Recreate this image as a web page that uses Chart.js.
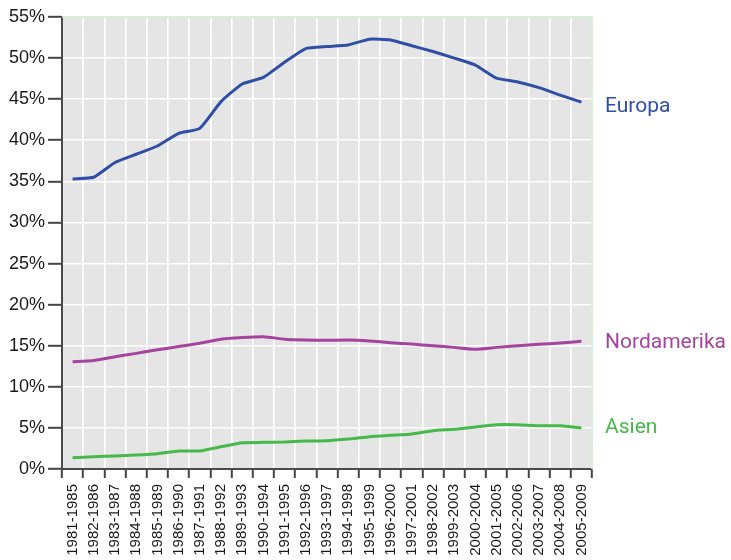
<!DOCTYPE html>
<html>
<head>
<meta charset="utf-8">
<script src="https://cdn.jsdelivr.net/npm/chart.js@4/dist/chart.umd.min.js"></script>
<style>
  html, body { margin: 0; padding: 0; background: #ffffff; }
  #wrap { width: 731px; height: 560px; position: relative; }
</style>
</head>
<body>
<div id="wrap"><canvas id="c" width="731" height="560"></canvas></div>
<script>
const categories = [
  "1981-1985","1982-1986","1983-1987","1984-1988","1985-1989","1986-1990","1987-1991",
  "1988-1992","1989-1993","1990-1994","1991-1995","1992-1996","1993-1997","1994-1998",
  "1995-1999","1996-2000","1997-2001","1998-2002","1999-2003","2000-2004","2001-2005",
  "2002-2006","2003-2007","2004-2008","2005-2009"
];
const europa = [35.3,35.5,37.3,38.3,39.3,40.85,41.45,44.7,46.85,47.65,49.5,51.15,51.4,51.6,52.3,52.2,51.5,50.8,50.0,49.15,47.55,47.1,46.4,45.5,44.65];
const nordamerika = [13.06,13.2,13.67,14.07,14.5,14.9,15.3,15.8,16.0,16.1,15.8,15.7,15.66,15.7,15.58,15.37,15.2,15.0,14.8,14.56,14.8,15.0,15.17,15.33,15.54];
const asien = [1.38,1.5,1.58,1.7,1.86,2.19,2.19,2.7,3.2,3.24,3.28,3.4,3.45,3.65,3.93,4.1,4.26,4.66,4.83,5.11,5.39,5.39,5.27,5.27,4.99];
const seriesNames = ["Europa","Nordamerika","Asien"];
const seriesColors = ["#2f4fa5","#a5449e","#47b84b"];
const yMin = 0, yMax = 55, yStep = 5;

const tickFont = "'Liberation Sans', Arial, sans-serif";
const labelFont = "Roboto, 'Liberation Sans', sans-serif";

const bgPlugin = {
  id: 'bg',
  beforeDraw(chart) {
    const {ctx, chartArea: a} = chart;
    ctx.save();
    ctx.fillStyle = '#e5e5e5';
    ctx.fillRect(a.left, a.top, a.right - a.left, a.bottom - a.top);
    ctx.restore();
  },
  afterDraw(chart) {
    const {ctx, chartArea: a} = chart;
    ctx.save();
    ctx.strokeStyle = '#cdebcd';
    ctx.lineWidth = 1.5;
    ctx.beginPath();
    ctx.moveTo(a.left, a.top);
    ctx.lineTo(a.right, a.top);
    ctx.lineTo(a.right, a.bottom);
    ctx.stroke();
    ctx.restore();
  }
};

const endLabels = {
  id: 'endLabels',
  afterDatasetsDraw(chart) {
    const {ctx, chartArea: a} = chart;
    const ys = chart.scales.y;
    ctx.save();
    ctx.font = "21px " + labelFont;
    ctx.textAlign = 'left';
    ctx.textBaseline = 'middle';
    const offs = [5, 1, 0];
    chart.data.datasets.forEach((ds, i) => {
      const v = ds.data[ds.data.length - 1];
      ctx.fillStyle = ds.borderColor;
      ctx.fillText(ds.label, a.right + 13, ys.getPixelForValue(v) + offs[i]);
    });
    ctx.restore();
  }
};

new Chart(document.getElementById('c'), {
  type: 'line',
  data: {
    labels: categories,
    datasets: [
      { label: seriesNames[0], data: europa, borderColor: seriesColors[0] },
      { label: seriesNames[1], data: nordamerika, borderColor: seriesColors[1] },
      { label: seriesNames[2], data: asien, borderColor: seriesColors[2] }
    ].map(d => Object.assign(d, { borderWidth: 3, pointRadius: 0, tension: 0.15, fill: false }))
  },
  options: {
    responsive: false,
    animation: false,
    layout: { padding: { top: 17, right: 139, left: 0, bottom: 0 } },
    plugins: { legend: { display: false }, tooltip: { enabled: false } },
    scales: {
      x: {
        type: 'category',
        offset: true,
        grid: { offset: true, color: '#ffffff', lineWidth: 1.6, tickColor: '#444444', tickWidth: 2, tickLength: 9 },
        border: { color: '#4a4a4a', width: 2 },
        ticks: {
          autoSkip: false, minRotation: 90, maxRotation: 90, padding: 6,
          color: '#1a1a1a', font: { family: tickFont, size: 15 }
        },
        afterFit(scale) { scale.height = 91; }
      },
      y: {
        min: yMin, max: yMax,
        grid: { color: '#ffffff', lineWidth: 1.6, tickColor: '#444444', tickWidth: 2, tickLength: 14 },
        border: { color: '#4a4a4a', width: 2 },
        ticks: {
          stepSize: yStep, padding: 3, color: '#1a1a1a',
          font: { family: tickFont, size: 18 },
          callback: v => v + '%'
        },
        afterFit(scale) { scale.width = 62; }
      }
    }
  },
  plugins: [bgPlugin, endLabels]
});
</script>
</body>
</html>
